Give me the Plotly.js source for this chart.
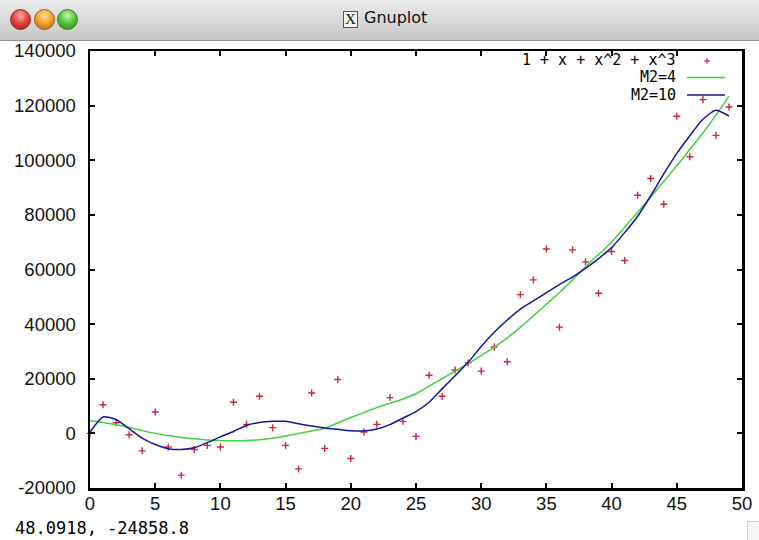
<!DOCTYPE html>
<html>
<head>
<meta charset="utf-8">
<script src="https://cdn.plot.ly/plotly-3.0.1.min.js"></script>
<style>
  html, body { margin: 0; padding: 0; background: #ffffff; }
  #wrap { position: relative; width: 759px; height: 540px; overflow: hidden; background: #fff; }
  #chart { position: absolute; left: 0; top: 0; width: 759px; height: 540px; }
  #titlebar { position: absolute; left: 0; top: 0; width: 759px; height: 40px;
    background: linear-gradient(#ececec, #c6c6c6); border-bottom: 1px solid #8e8e8e; z-index: 5; }
  .light { position: absolute; top: 9px; width: 21px; height: 21px; border-radius: 50%; box-sizing: border-box; }
  #red { left: 10px; background: radial-gradient(circle at 50% 30%, #ffb3ad 0%, #e4453c 45%, #9c1a14 100%); border: 1px solid #8a2a25; }
  #orange { left: 34px; background: radial-gradient(circle at 50% 30%, #ffe3a0 0%, #f2a52b 45%, #a8620a 100%); border: 1px solid #94601c; }
  #green { left: 57px; background: radial-gradient(circle at 50% 30%, #c8f5b0 0%, #5cc63e 45%, #2a7a15 100%); border: 1px solid #3b7a2a; }
  #xicon { position: absolute; left: 343px; top: 11px; width: 15px; height: 17px; box-sizing: border-box;
    border: 1px solid #555; background: #f4f4f4; font-family: "Liberation Serif", serif; font-size: 15px;
    line-height: 15px; text-align: center; color: #111; }
  #wtitle { position: absolute; left: 364px; top: 8px; font-family: "DejaVu Sans", sans-serif; font-size: 16px; color: #111; }
  #grip { position: absolute; right: 0; bottom: 0; width: 11px; height: 18px; border-left: 1px solid #d0d0d0; border-top: 1px solid #d0d0d0; background: #f6f6f6; z-index: 5; }
</style>
</head>
<body>
<div id="wrap">
  <div id="chart"></div>
  <div id="titlebar">
    <div class="light" id="red"></div>
    <div class="light" id="orange"></div>
    <div class="light" id="green"></div>
    <div id="xicon">X</div>
    <div id="wtitle">Gnuplot</div>
  </div>
  <div id="grip"></div>
</div>
<script>
// ---- data ----
const xData = [0,1,2,3,4,5,6,7,8,9,10,11,12,13,14,15,16,17,18,19,20,21,22,23,24,25,26,27,28,29,30,31,32,33,34,35,36,37,38,39,40,41,42,43,44,45,46,47,48,49];
const yPoints = [0,10500,3900,-500,-6400,7800,-5000,-15300,-5900,-4400,-5000,11400,3300,13600,2100,-4400,-13000,14800,-5500,19700,-9200,500,3300,13100,4400,-1100,21300,13600,23200,25800,22800,31600,26200,50800,56200,67500,38900,67200,62800,51300,66600,63300,87200,93300,83900,116100,101300,122200,109100,119500];
const yM4 = [4700,4000,3200,2200,1000,0,-800,-1500,-2000,-2400,-2600,-2700,-2600,-2300,-1800,-1000,0,900,1900,3800,5800,7600,9500,11000,12600,14500,17300,20000,22800,25600,28500,31600,35000,38800,43000,47300,51600,56200,61000,65500,70000,75500,81000,86500,92300,98000,104000,110000,116500,123500];
const yM10 = [500,6000,5100,1700,-1700,-4100,-5600,-5900,-5300,-3400,-1300,700,2900,4000,4400,4400,3500,2700,2000,1500,1000,900,1600,3200,5600,8000,11400,16300,21100,26000,31800,37000,41500,45500,48500,51500,54500,57200,60400,64000,68000,73500,79500,87000,95000,102500,109000,115000,118300,116200];
const xTicks = [0,5,10,15,20,25,30,35,40,45,50];
const yTicks = [-20000,0,20000,40000,60000,80000,100000,120000,140000];
const legendLabels = ["1 + x + x^2 + x^3", "M2=4", "M2=10"];
const statusText = "48.0918, -24858.8";

// ---- layout helpers (pixel -> paper) ----
const L = 90, R = 742, T = 51, B = 488;
const px = v => (v - L) / (R - L);
const py = v => (B - v) / (B - T);

const cRed = '#c42a3a', cGreen = '#3fd23f', cBlue = '#1414a0';

const traces = [
  { x: xData, y: yPoints, type: 'scatter', mode: 'markers', name: legendLabels[0],
    marker: { symbol: 'cross-thin', size: 5, color: cRed, line: { color: cRed, width: 1.4 } }, cliponaxis: false },
  { x: xData, y: yM4, type: 'scatter', mode: 'lines', name: legendLabels[1],
    line: { color: cGreen, width: 1.5, shape: 'spline', smoothing: 0.6 } },
  { x: xData, y: yM10, type: 'scatter', mode: 'lines', name: legendLabels[2],
    line: { color: cBlue, width: 1.5, shape: 'spline', smoothing: 0.6 } }
];

const axisCommon = {
  showline: true, linecolor: '#000', linewidth: 2.5, mirror: 'ticks',
  ticks: 'inside', ticklen: 5, tickwidth: 2, tickcolor: '#000',
  showgrid: false, zeroline: false,
  tickfont: { family: 'Liberation Sans, Arial, sans-serif', size: 18.5, color: '#111' }
};

const monoFont = { family: 'DejaVu Sans Mono, Liberation Mono, monospace', size: 17, color: '#000' };
const keyFont = { family: 'DejaVu Sans Mono, Liberation Mono, monospace', size: 15, color: '#000' };
const rows = [60, 77.5, 95];

const layout = {
  width: 759, height: 540, autosize: false,
  margin: { l: L, r: 759 - R, t: T, b: 540 - B, pad: 0 },
  paper_bgcolor: '#ffffff', plot_bgcolor: '#ffffff',
  showlegend: false,
  xaxis: Object.assign({}, axisCommon, { range: [0, 50], tickvals: xTicks, ticktext: xTicks.map(String), ticklabelstandoff: -3 }),
  yaxis: Object.assign({}, axisCommon, { range: [-20000, 140000], tickvals: yTicks, ticktext: yTicks.map(String), ticklabelstandoff: 8 }),
  annotations: [
    { text: legendLabels[0], xref: 'paper', yref: 'paper', x: px(677), y: py(rows[0]), xanchor: 'right', yanchor: 'middle', showarrow: false, font: keyFont, borderpad: 0 },
    { text: legendLabels[1], xref: 'paper', yref: 'paper', x: px(677), y: py(rows[1]), xanchor: 'right', yanchor: 'middle', showarrow: false, font: keyFont, borderpad: 0 },
    { text: legendLabels[2], xref: 'paper', yref: 'paper', x: px(677), y: py(rows[2]), xanchor: 'right', yanchor: 'middle', showarrow: false, font: keyFont, borderpad: 0 },
    { text: statusText, xref: 'paper', yref: 'paper', x: px(14), y: py(528), xanchor: 'left', yanchor: 'middle', showarrow: false, font: monoFont, borderpad: 0 }
  ],
  shapes: [
    { type: 'line', xref: 'paper', yref: 'paper', x0: px(687), x1: px(725), y0: py(rows[1]), y1: py(rows[1]), line: { color: cGreen, width: 1.5 } },
    { type: 'line', xref: 'paper', yref: 'paper', x0: px(687), x1: px(725), y0: py(rows[2]), y1: py(rows[2]), line: { color: cBlue, width: 1.5 } },
    { type: 'line', xref: 'paper', yref: 'paper', x0: px(704.5), x1: px(709.5), y0: py(rows[0] + 1), y1: py(rows[0] + 1), line: { color: cRed, width: 1.4 } },
    { type: 'line', xref: 'paper', yref: 'paper', x0: px(707), x1: px(707), y0: py(rows[0] - 1.5), y1: py(rows[0] + 3.5), line: { color: cRed, width: 1.4 } }
  ]
};

Plotly.newPlot('chart', traces, layout, { staticPlot: true, displayModeBar: false });
</script>
</body>
</html>
